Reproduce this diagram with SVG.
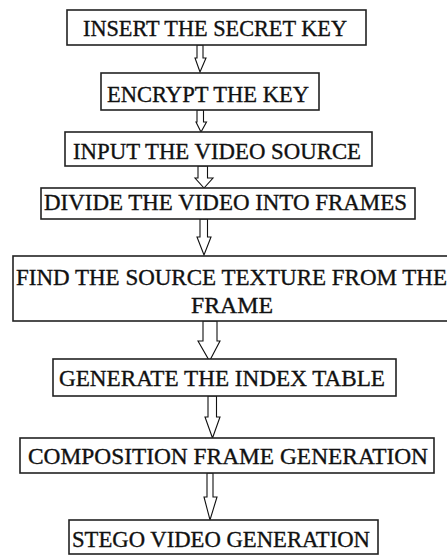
<svg xmlns="http://www.w3.org/2000/svg" width="447" height="557" viewBox="0 0 447 557">
<style>
.box{fill:#fff;stroke:#222;stroke-width:1.6}
.lbl{font-family:'Liberation Serif','Times New Roman',Times,serif;font-size:23px;fill:#111;stroke:#111;stroke-width:0.35;text-anchor:middle}
.arr{fill:#fff;stroke:#111;stroke-width:1.1;stroke-linejoin:miter}
</style>
<rect width="447" height="557" fill="#fff"/>
<g id="connectors">
<polygon class="arr" points="197,45 203,45 203,58 206,58 200,72 195,58 197,58"/>
<polygon class="arr" points="197,110 203.5,110 203.5,122 206.5,122 201,132 196,122 197,122"/>
<polygon class="arr" points="198,166 207.5,166 207.5,178 213,178 204,188 195,178 198,178"/>
<polygon class="arr" points="200,219 207.5,219 207.5,237 211,237 204,255 197,237 200,237"/>
<polygon class="arr" points="203,321 217,321 217,341 220,341 209.5,361 198,341 203,341"/>
<polygon class="arr" points="208,396 216.5,396 216.5,417 220,417 212.5,438 205,417 208,417"/>
<polygon class="arr" points="207,473 213,473 213,497 217,497 210,520 204,497 207,497"/>
</g>
<g id="n1"><rect class="box" x="67" y="10" width="299" height="35"/><text class="lbl" x="215" y="36" textLength="264" lengthAdjust="spacingAndGlyphs">INSERT THE SECRET KEY</text></g>
<g id="n2"><rect class="box" x="101" y="73" width="218" height="37"/><text class="lbl" x="208" y="102" textLength="202" lengthAdjust="spacingAndGlyphs">ENCRYPT THE KEY</text></g>
<g id="n3"><rect class="box" x="65" y="132" width="307" height="34"/><text class="lbl" x="217" y="159" textLength="288" lengthAdjust="spacingAndGlyphs">INPUT THE VIDEO SOURCE</text></g>
<g id="n4"><rect class="box" x="41" y="188" width="374" height="31"/><text class="lbl" x="225.5" y="210" textLength="363" lengthAdjust="spacingAndGlyphs">DIVIDE THE VIDEO INTO FRAMES</text></g>
<g id="n5"><rect class="box" x="13" y="256" width="440" height="65"/><text class="lbl" x="231.5" y="285" textLength="431" lengthAdjust="spacingAndGlyphs">FIND THE SOURCE TEXTURE FROM THE</text><text class="lbl" x="232" y="313" textLength="82" lengthAdjust="spacingAndGlyphs">FRAME</text></g>
<g id="n6"><rect class="box" x="53" y="359" width="343" height="37"/><text class="lbl" x="222" y="386" textLength="326" lengthAdjust="spacingAndGlyphs">GENERATE THE INDEX TABLE</text></g>
<g id="n7"><rect class="box" x="20" y="438" width="414" height="35"/><text class="lbl" x="228" y="464" textLength="400" lengthAdjust="spacingAndGlyphs">COMPOSITION FRAME GENERATION</text></g>
<g id="n8"><rect class="box" x="69" y="520" width="309" height="34"/><text class="lbl" x="221" y="547" textLength="298" lengthAdjust="spacingAndGlyphs">STEGO VIDEO GENERATION</text></g>
</svg>
